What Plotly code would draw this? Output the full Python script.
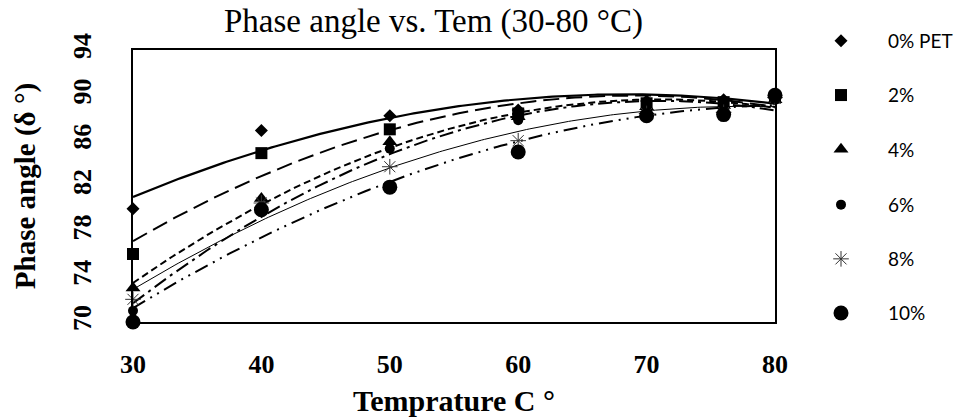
import numpy as np
import plotly.graph_objects as go

# Test temperatures (°C)
temps = [30, 40, 50, 60, 70, 76, 80]

# Phase angle (degrees) for each PET content
pet_0 = [80.0, 86.9, 88.2, 88.7, 89.5, 89.6, 90.0]
pet_2 = [76.0, 84.9, 87.0, 88.4, 89.3, 89.4, 89.8]
pet_4 = [73.0, 80.9, 85.9, 88.1, 89.0, 89.1, 89.6]
pet_6 = [71.0, 80.2, 85.3, 87.8, 88.7, 88.8, 89.6]
pet_8 = [72.0, 80.5, 83.7, 86.0, 88.4, 88.5, 89.8]
pet_10 = [70.0, 79.9, 81.9, 85.0, 88.2, 88.3, 90.0]

labels = ["0% PET", "2%", "4%", "6%", "8%", "10%"]
series = [pet_0, pet_2, pet_4, pet_6, pet_8, pet_10]

marker_styles = [
    dict(symbol="diamond", size=10, color="black"),
    dict(symbol="square", size=12, color="black"),
    dict(symbol="triangle-up", size=13, color="black"),
    dict(symbol="circle", size=10, color="black"),
    dict(symbol="asterisk-open", size=13, color="#333333", line=dict(width=1, color="#333333")),
    dict(symbol="circle", size=15, color="black"),
]
line_styles = [
    dict(color="black", width=2.2, dash="solid"),
    dict(color="black", width=2, dash="16px,7px"),
    dict(color="black", width=2, dash="7px,4px"),
    dict(color="black", width=2, dash="14px,5px,3px,5px"),
    dict(color="black", width=1, dash="solid"),
    dict(color="black", width=2, dash="14px,6px,2px,6px,2px,6px"),
]

fig = go.Figure()
x_fit = np.linspace(30, 80, 200)

# Second-order polynomial trendlines
for vals, ls in zip(series, line_styles):
    coef = np.polyfit(temps, vals, 2)
    fig.add_trace(go.Scatter(x=x_fit, y=np.polyval(coef, x_fit), mode="lines",
                             line=ls, showlegend=False, hoverinfo="skip"))

# Measured points; the key is split over two legend boxes stacked on the right
for i, (name, vals, ms) in enumerate(zip(labels, series, marker_styles)):
    fig.add_trace(go.Scatter(x=temps, y=vals, mode="markers", name=name,
                             marker=ms, legendgroup=f"g{i}", cliponaxis=False,
                             legend="legend" if i < 3 else "legend2"))

serif = "Liberation Serif, Times New Roman, serif"
W, H = 964, 418
L, R, T, B = 133, 189, 50, 96
pw, ph = W - L - R, H - T - B
step = 54.6


def px_y(py):
    return 1 - (py - T) / ph


legend_common = dict(x=(794 - L) / pw, xanchor="left", yanchor="top",
                     font=dict(family="Lato, sans-serif", size=19, color="black"),
                     tracegroupgap=26.5, itemsizing="trace", itemwidth=84,
                     bgcolor="rgba(0,0,0,0)")

fig.update_layout(
    width=W, height=H,
    margin=dict(l=L, r=R, t=T, b=B, autoexpand=False),
    paper_bgcolor="white", plot_bgcolor="white",
    showlegend=True,
    legend=dict(y=px_y(22), **legend_common),
    legend2=dict(y=px_y(22 + 3 * step), **legend_common),
    annotations=[
        dict(text="Phase angle vs. Tem (30-80 °C)",
             x=(433 - L) / pw, y=px_y(22), xref="paper", yref="paper",
             xanchor="center", yanchor="middle",
             showarrow=False, font=dict(family=serif, size=33, color="black")),
    ],
)

fig.update_xaxes(range=[30, 80], tickvals=[30, 40, 50, 60, 70, 80], showgrid=False, zeroline=False,
                 showline=True, linecolor="black", linewidth=2, mirror=True, ticks="",
                 ticklabelstandoff=18,
                 tickfont=dict(family=serif, size=26, color="black", weight="bold"),
                 title=dict(text="<b>Temprature C °</b>", font=dict(family=serif, size=30, color="black"),
                            standoff=12))
fig.update_yaxes(range=[70, 94], tickvals=[70, 74, 78, 82, 86, 90, 94], showgrid=False, zeroline=False,
                 showline=True, linecolor="black", linewidth=2, mirror=True, ticks="",
                 tickangle=-90, ticklabelstandoff=30,
                 tickfont=dict(family=serif, size=26, color="black", weight="bold"),
                 title=dict(text="<b>Phase angle (δ °)</b>", font=dict(family=serif, size=29, color="black"),
                            standoff=23))

fig.write_html("out.html")
